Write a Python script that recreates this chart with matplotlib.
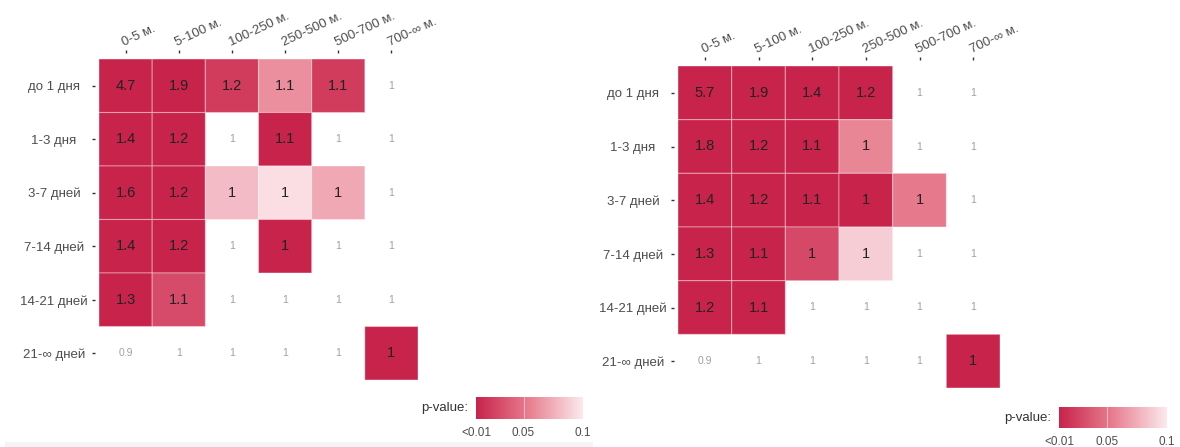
import matplotlib.pyplot as plt
import numpy as np
from matplotlib.colors import LinearSegmentedColormap, Normalize
from matplotlib.patches import Rectangle

plt.rcParams['font.family'] = ['Liberation Sans', 'DejaVu Sans']

dist_labels = ['0-5 м.', '5-100 м.', '100-250 м.', '250-500 м.', '500-700 м.', '700-∞ м.']
time_labels = ['до 1 дня', '1-3 дня', '3-7 дней', '7-14 дней', '14-21 дней', '21-∞ дней']

# отношение шансов, левая таблица
ratio_left = [
    [4.7, 1.9, 1.2, 1.1, 1.1, 1],
    [1.4, 1.2, 1, 1.1, 1, 1],
    [1.6, 1.2, 1, 1, 1, 1],
    [1.4, 1.2, 1, 1, 1, 1],
    [1.3, 1.1, 1, 1, 1, 1],
    [0.9, 1, 1, 1, 1, 1],
]
# p-value, левая таблица (nan = незначимо, > 0.1)
pval_left = [
    [0.001, 0.001, 0.022, 0.062, 0.022, np.nan],
    [0.001, 0.001, np.nan, 0.004, np.nan, np.nan],
    [0.001, 0.001, 0.08, 0.095, 0.072, np.nan],
    [0.001, 0.001, np.nan, 0.005, np.nan, np.nan],
    [0.001, 0.03, np.nan, np.nan, np.nan, np.nan],
    [np.nan, np.nan, np.nan, np.nan, np.nan, 0.005],
]

# правая таблица
ratio_right = [
    [5.7, 1.9, 1.4, 1.2, 1, 1],
    [1.8, 1.2, 1.1, 1, 1, 1],
    [1.4, 1.2, 1.1, 1, 1, 1],
    [1.3, 1.1, 1, 1, 1, 1],
    [1.2, 1.1, 1, 1, 1, 1],
    [0.9, 1, 1, 1, 1, 1],
]
pval_right = [
    [0.001, 0.001, 0.004, 0.006, np.nan, np.nan],
    [0.001, 0.001, 0.005, 0.058, np.nan, np.nan],
    [0.001, 0.001, 0.004, 0.007, 0.052, np.nan],
    [0.001, 0.004, 0.028, 0.088, np.nan, np.nan],
    [0.001, 0.004, np.nan, np.nan, np.nan, np.nan],
    [np.nan, np.nan, np.nan, np.nan, np.nan, 0.006],
]

cbar_ticks = [0.01, 0.05, 0.1]
cbar_ticklabels = ['<0.01', '0.05', '0.1']

cmap = LinearSegmentedColormap.from_list('pv', ['#C8234B', '#E87F90', '#FCEAEE'])
norm = Normalize(vmin=0.01, vmax=0.1, clip=True)


def heat(ax, ratio, pval):
    ratio = np.array(ratio)
    pval = np.ma.masked_invalid(np.array(pval))
    n = ratio.shape[0]
    ax.pcolor(np.arange(n + 1), np.arange(n + 1), pval, cmap=cmap, norm=norm,
              edgecolors=(1, 1, 1, 0.35), linewidth=0.8)
    for i in range(n):
        for j in range(n):
            txt = f'{ratio[i, j]:g}'
            if pval.mask[i, j]:
                ax.text(j + 0.5, i + 0.5, txt, ha='center', va='center',
                        fontsize=7.5, color='#a0a0a0')
            else:
                ax.text(j + 0.5, i + 0.5, txt, ha='center', va='center',
                        fontsize=10.5, color='#222222')
    ax.set_xlim(0, n)
    ax.set_ylim(n, 0)
    ax.set_xticks(np.arange(n) + 0.5)
    ax.set_yticks(np.arange(n) + 0.5)
    ax.xaxis.tick_top()
    ax.set_xticklabels(dist_labels)
    ax.set_yticklabels(time_labels)
    ax.tick_params(axis='x', length=2.5, width=1, color='#333333', pad=1,
                   labelsize=9.5, labelcolor='#4d4d4d')
    ax.tick_params(axis='y', length=2.5, width=1, color='#333333', pad=27,
                   labelsize=9.5, labelcolor='#4d4d4d')
    ax.spines['top'].set_position(('outward', 4))
    ax.spines['left'].set_position(('outward', 3))
    for s in ax.spines.values():
        s.set_visible(False)
    for tk in ax.xaxis.get_major_ticks():
        tk.label2.set_rotation(25)
        tk.label2.set_rotation_mode('anchor')
        tk.label2.set_horizontalalignment('left')
        tk.label2.set_verticalalignment('bottom')
    for tk in ax.yaxis.get_major_ticks():
        tk.label1.set_horizontalalignment('center')


def legend(fig, rect):
    cax = fig.add_axes(rect)
    grad = np.linspace(0.01, 0.1, 256).reshape(1, -1)
    cax.imshow(grad, aspect='auto', cmap=cmap, norm=norm,
               extent=[0.01, 0.1, 0, 1])
    cax.axvline(0.05, color='white', lw=0.6, alpha=0.6)
    cax.set_xlim(0.01, 0.1)
    cax.set_yticks([])
    cax.set_xticks(cbar_ticks)
    cax.set_xticklabels(cbar_ticklabels, fontsize=8.5, color='#4d4d4d')
    cax.tick_params(axis='x', length=0, pad=6)
    for s in cax.spines.values():
        s.set_visible(False)
    cax.text(-0.07, 0.5, 'p-value:', transform=cax.transAxes, ha='right',
             va='center', fontsize=9.5, color='#333333')


W, H = 1180, 447
fig = plt.figure(figsize=(W / 100, H / 100), dpi=100)

ax1 = fig.add_axes([99 / W, (H - 380) / H, 319 / W, 321 / H])
heat(ax1, ratio_left, pval_left)
legend(fig, [476 / W, (H - 419) / H, 107 / W, 22 / H])

ax2 = fig.add_axes([678 / W, (H - 388) / H, 322 / W, 322 / H])
heat(ax2, ratio_right, pval_right)
legend(fig, [1059 / W, (H - 428) / H, 108 / W, 21 / H])

# светлая полоса внизу левой панели
fig.patches.append(Rectangle((5 / W, 0), 588 / W, 5 / H, transform=fig.transFigure,
                             facecolor='#f4f4f4', edgecolor='none'))

fig.savefig('out.png', dpi=100)
